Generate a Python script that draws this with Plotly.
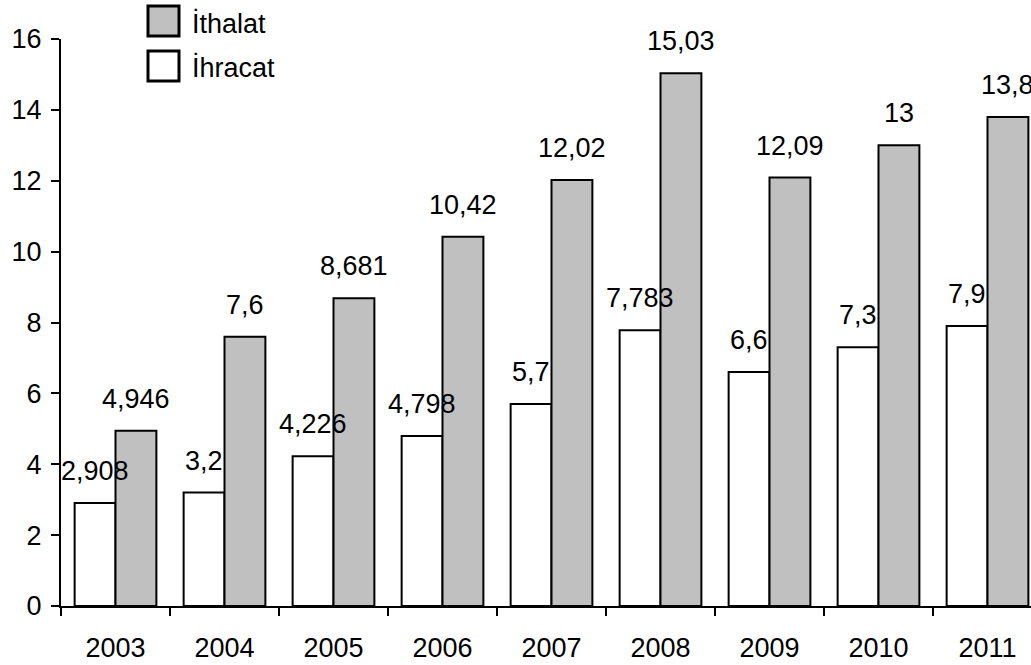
import plotly.graph_objects as go

years = ["2003", "2004", "2005", "2006", "2007", "2008", "2009", "2010", "2011"]
ihracat = [2.908, 3.2, 4.226, 4.798, 5.7, 7.783, 6.6, 7.3, 7.9]
ithalat = [4.946, 7.6, 8.681, 10.42, 12.02, 15.03, 12.09, 13.0, 13.8]
y_ticks = [0, 2, 4, 6, 8, 10, 12, 14, 16]

W, H = 1031, 665
OFF = 0  # body margin removed by post_script
# plot area in page pixels
PL, PT, PR, PB = 61, 39, 1031, 606
ML, MT = PL - OFF, PT - OFF
MR = W - (PR - OFF)
MB = H - (PB - OFF)
PW, PH = PR - PL, PB - PT

FONT = "Liberation Sans, Arial, sans-serif"
GRAY = "#c0c0c0"


def lab(v):
    return f"{v:g}".replace(".", ",")


fig = go.Figure()
fig.add_trace(go.Bar(x=years, y=ihracat, name="İhracat",
                     marker=dict(color="white", line=dict(color="black", width=2))))
fig.add_trace(go.Bar(x=years, y=ithalat, name="İthalat",
                     marker=dict(color=GRAY, line=dict(color="black", width=2))))

cat_w = 109.0
bar_w = cat_w * 0.75 / 2
annos = []
for i, (a, b) in enumerate(zip(ihracat, ithalat)):
    for v, sh in ((a, -bar_w / 2), (b, bar_w / 2)):
        annos.append(dict(x=i, y=v, xref="x", yref="y", text=lab(v), showarrow=False,
                          xshift=sh, yshift=32, yanchor="middle",
                          font=dict(family=FONT, size=27, color="black")))


def px(xp):
    return (xp - PL) / PW


def py(yp):
    return 1 - (yp - PT) / PH


shapes = []
legend_items = [("İthalat", GRAY, 6), ("İhracat", "white", 51)]
for name, col, top in legend_items:
    shapes.append(dict(type="rect", xref="paper", yref="paper",
                       x0=px(148), x1=px(179), y0=py(top + 30), y1=py(top),
                       fillcolor=col, line=dict(color="black", width=3)))
    annos.append(dict(x=px(190), y=py(top + 17), xref="paper", yref="paper",
                      text=name, showarrow=False, xanchor="left", yanchor="middle",
                      font=dict(family=FONT, size=27, color="black")))

fig.update_layout(
    width=W, height=H,
    margin=dict(l=ML, r=MR, t=MT, b=MB, pad=0, autoexpand=False),
    paper_bgcolor="white", plot_bgcolor="white",
    barmode="group", bargap=0.25, bargroupgap=0,
    showlegend=False,
    annotations=annos, shapes=shapes,
    font=dict(family=FONT, size=27, color="black"),
)
fig.update_xaxes(type="category", range=[-0.5, -0.5 + PW / cat_w], showgrid=False,
                 showline=True, automargin=False,
                 linecolor="black", linewidth=2, ticks="outside", tickson="boundaries",
                 ticklen=8, tickwidth=2, tickcolor="black", ticklabelstandoff=17,
                 tickfont=dict(family=FONT, size=27, color="black"))
fig.update_yaxes(range=[0, 16], tickvals=y_ticks, showgrid=False, showline=True,
                 automargin=False,
                 linecolor="black", linewidth=2, ticks="outside", ticklen=8, tickwidth=2,
                 tickcolor="black", zeroline=False, ticklabelstandoff=4,
                 tickfont=dict(family=FONT, size=27, color="black"))

fig.write_html("out.html", config={"displayModeBar": False},
               post_script="document.body.style.margin='0px';")
